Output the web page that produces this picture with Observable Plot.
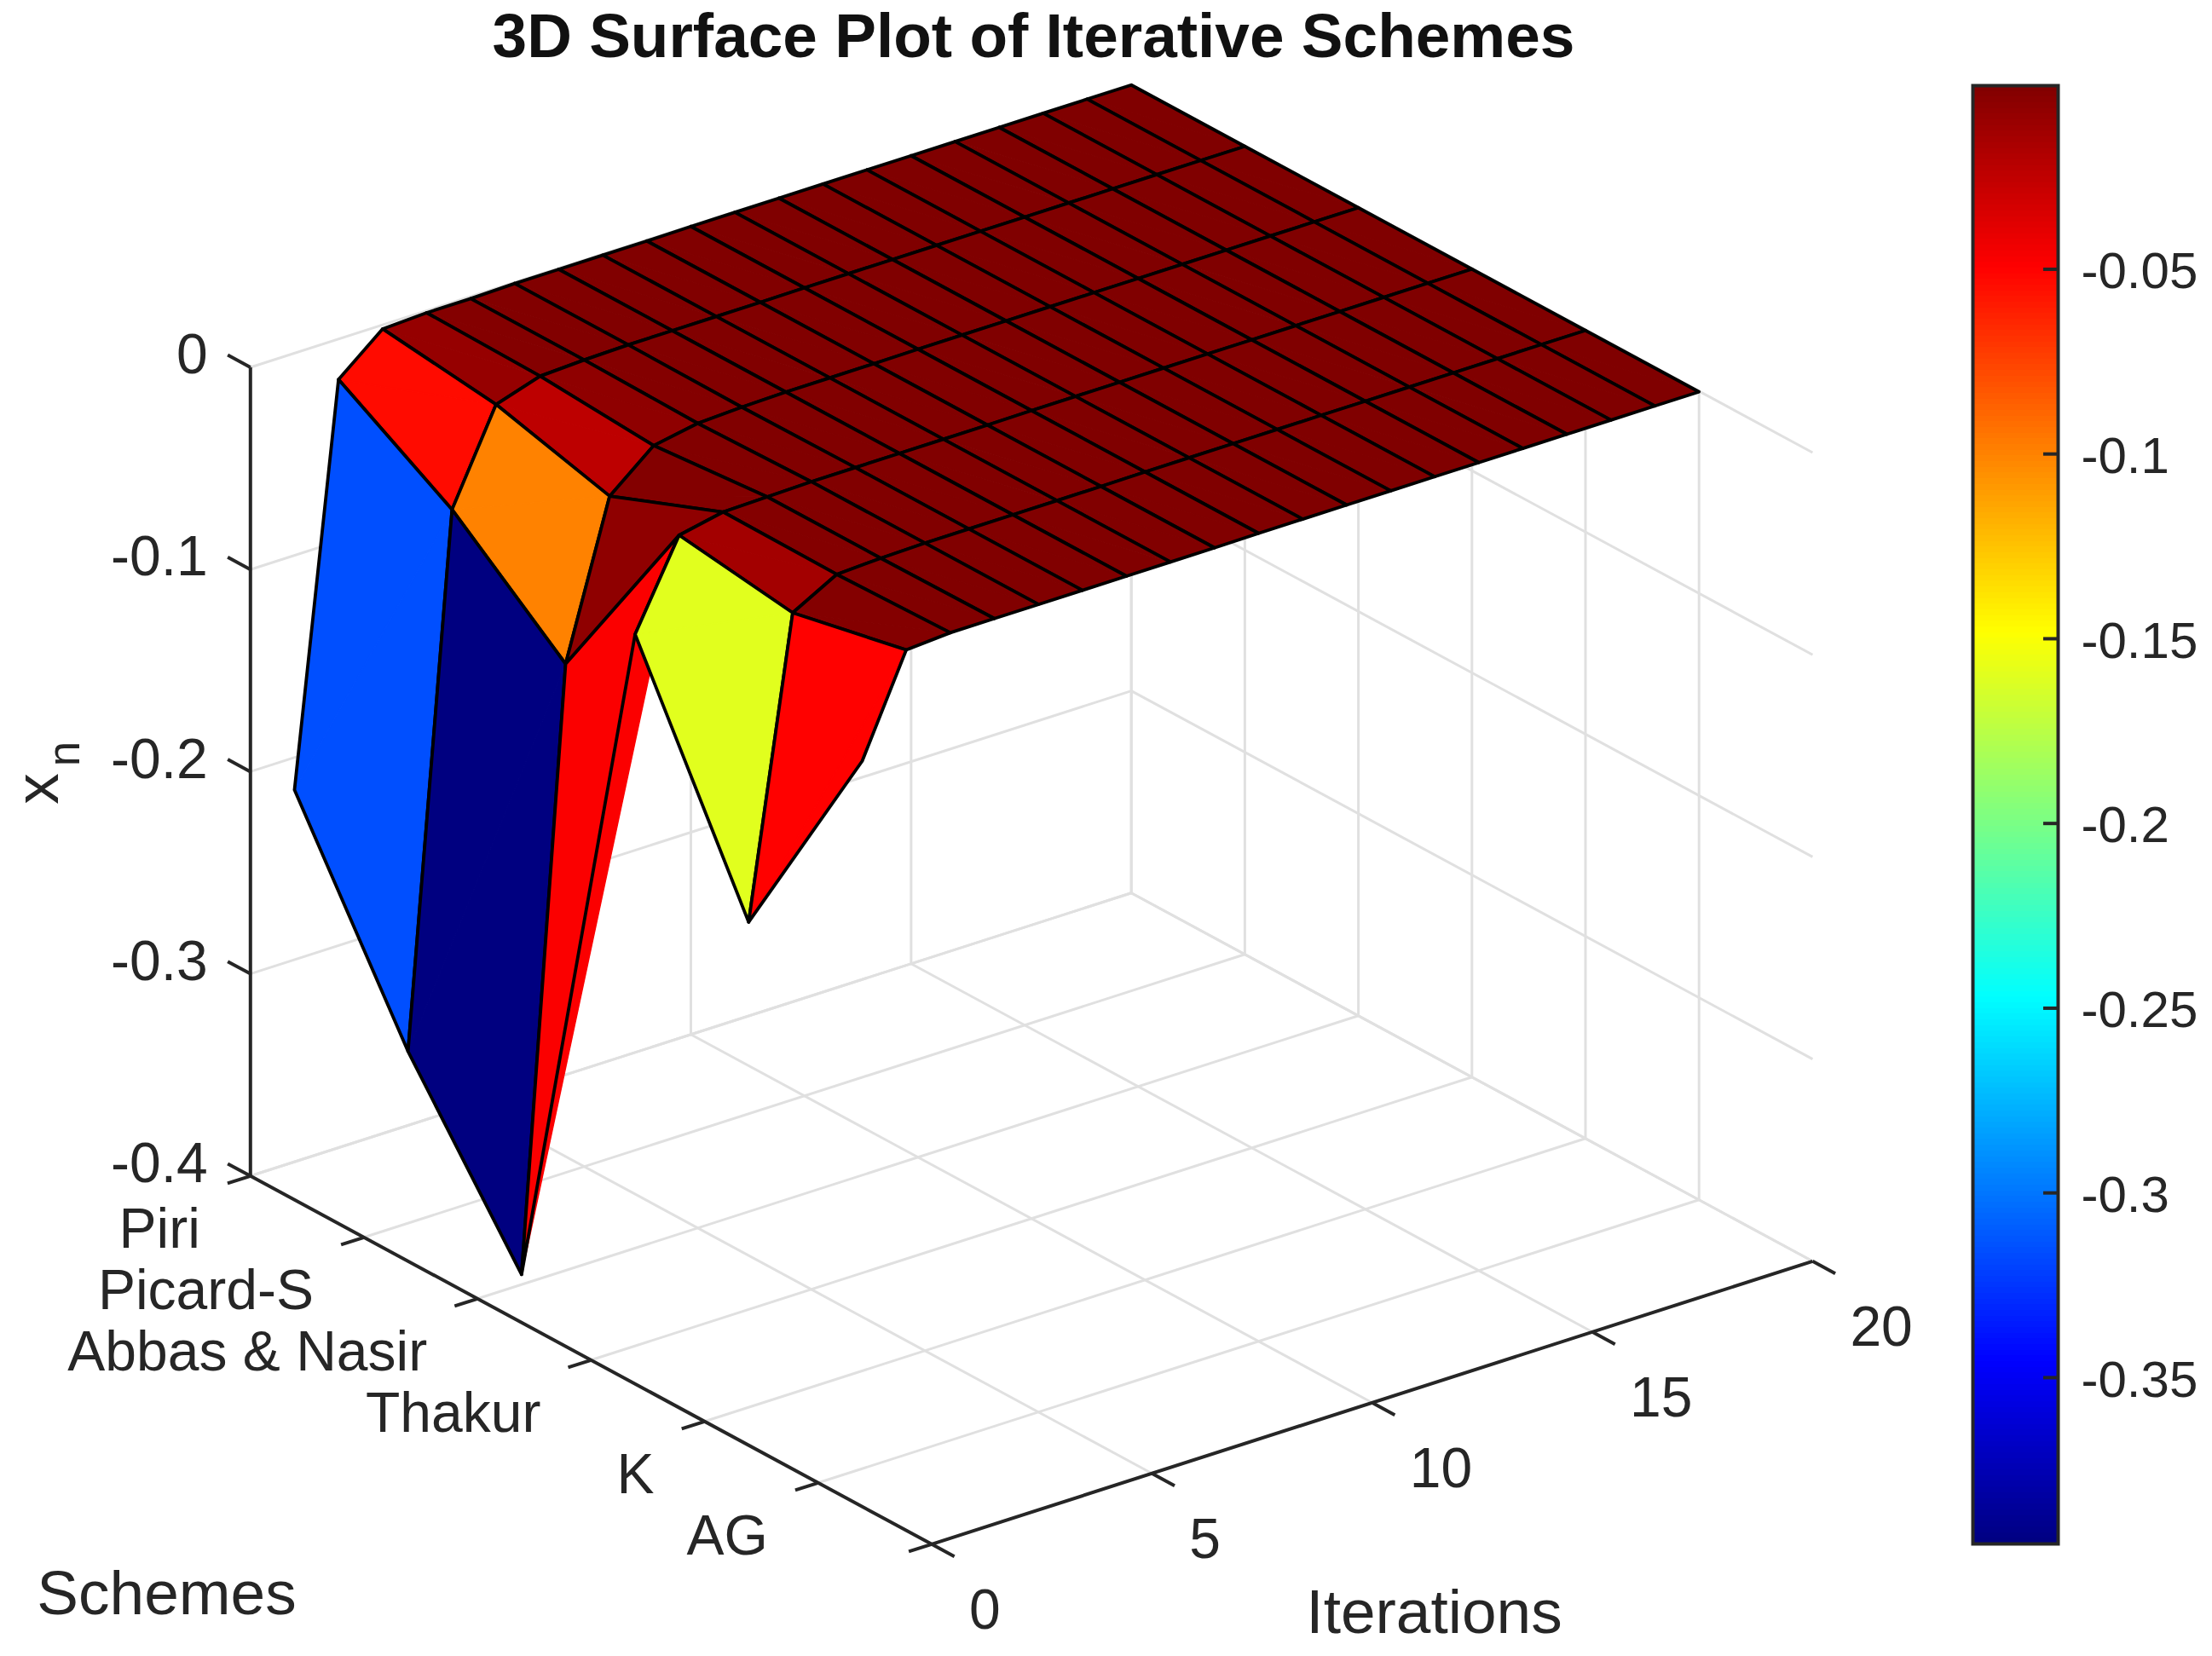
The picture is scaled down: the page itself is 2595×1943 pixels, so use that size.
<!DOCTYPE html>
<html>
<head>
<meta charset="utf-8">
<script src="https://cdn.jsdelivr.net/npm/d3@7"></script>
<script src="https://cdn.jsdelivr.net/npm/@observablehq/plot@0.6"></script>
<style>
html,body{margin:0;padding:0;background:#fff;overflow:hidden}
#root{position:relative;width:2595px;height:1943px}
#root svg{position:absolute;left:0;top:0;max-width:none}
#root #bar svg{left:2300px}
</style>
</head>
<body>
<div id="root"><div id="main"></div><div id="bar"></div></div>
<script>
// ---- data ----
const schemes = ["Piri", "Picard-S", "Abbas & Nasir", "Thakur", "K", "AG"];
const iterations = [1,2,3,4,5,6,7,8,9,10,11,12,13,14,15,16,17,18,19,20];
const piri    = [-0.216,-0.020,-0.002,-0.001,-0.001,-0.0005,-0.0005,-0.0005,-0.0005,-0.0003,-0.0003,-0.0003,-0.0003,-0.0003,-0.0003,-0.0003,-0.0003,-0.0003,-0.0003,-0.0003];
const picardS = [-0.315,-0.054,-0.009,-0.002,-0.001,-0.0005,-0.0005,-0.0005,-0.0005,-0.0003,-0.0003,-0.0003,-0.0003,-0.0003,-0.0003,-0.0003,-0.0003,-0.0003,-0.0003,-0.0003];
const abbas   = [-0.395,-0.100,-0.024,-0.006,-0.002,-0.001,-0.0005,-0.0005,-0.0005,-0.0003,-0.0003,-0.0003,-0.0003,-0.0003,-0.0003,-0.0003,-0.0003,-0.0003,-0.0003,-0.0003];
const thakur  = [-0.048,-0.006,-0.0015,-0.001,-0.0005,-0.0005,-0.0005,-0.0005,-0.0005,-0.0003,-0.0003,-0.0003,-0.0003,-0.0003,-0.0003,-0.0003,-0.0003,-0.0003,-0.0003,-0.0003];
const kIter   = [-0.160,-0.014,-0.002,-0.001,-0.0005,-0.0005,-0.0005,-0.0005,-0.0005,-0.0003,-0.0003,-0.0003,-0.0003,-0.0003,-0.0003,-0.0003,-0.0003,-0.0003,-0.0003,-0.0003];
const ag      = [-0.050,-0.002,-0.0005,-0.0005,-0.0005,-0.0005,-0.0005,-0.0005,-0.0005,-0.0003,-0.0003,-0.0003,-0.0003,-0.0003,-0.0003,-0.0003,-0.0003,-0.0003,-0.0003,-0.0003];
const surface = [piri, picardS, abbas, thakur, kIter, ag];

const iterTicks = [0, 5, 10, 15, 20];
const schemeTicks = [1, 2, 3, 4, 5, 6, 7];
const zTicks = [0, -0.1, -0.2, -0.3, -0.4];
const barTicks = [-0.05, -0.1, -0.15, -0.2, -0.25, -0.3, -0.35];
const colorLimits = [-0.395, -0.0003];
const jetColors = ["#000080", "#0000ff", "#00ffff", "#ffff00", "#ff0000", "#800000"];
const jetStops = [0, 1/8, 3/8, 5/8, 7/8, 1];

// ---- MATLAB-style orthographic view (pixels per data unit) ----
const view = {ox: 293.3, oy: 1379.3, tx: 51.67, ty: -16.6, sx: 133.2, sy: 72, zy: 2372, zBase: -0.4};
const project = (t, s, z) => ({
  x: view.ox + view.tx * t + view.sx * (s - 1),
  y: view.oy + view.ty * t + view.sy * (s - 1) - (z - view.zBase) * view.zy
});
const link = (a, b) => {
  const p = project(...a), q = project(...b);
  return {x1: p.x, y1: p.y, x2: q.x, y2: q.y};
};

// ---- grid and axes ----
const gridLines = [];
for (const t of iterTicks) {
  gridLines.push(link([t,1,-0.4],[t,7,-0.4]));
  if (t > 0) gridLines.push(link([t,1,-0.4],[t,1,0]));
}
for (const s of schemeTicks) {
  gridLines.push(link([0,s,-0.4],[20,s,-0.4]));
  if (s < 7) gridLines.push(link([20,s,-0.4],[20,s,0]));
}
for (const z of zTicks) {
  gridLines.push(link([0,1,z],[20,1,z]));
  gridLines.push(link([20,1,z],[20,7,z]));
}
const axisLines = [
  link([0,1,-0.4],[0,1,0]),
  link([0,1,-0.4],[0,7,-0.4]),
  link([0,7,-0.4],[20,7,-0.4]),
  ...zTicks.map(z => link([0,1,z],[0,0.8,z])),
  ...schemeTicks.map(s => link([0,s,-0.4],[-0.52,s,-0.4])),
  ...iterTicks.map(t => link([t,7,-0.4],[t,7.2,-0.4]))
];

// ---- surface cells, painted back to front ----
const cells = [];
for (let ti = iterations.length - 2; ti >= 0; --ti) {
  for (let si = 0; si < schemes.length - 1; ++si) {
    const corner = (i, j) => ({...project(iterations[j], i + 1, surface[i][j])});
    const A = corner(si, ti), B = corner(si, ti + 1), C = corner(si + 1, ti + 1), D = corner(si + 1, ti);
    const v = surface[si + 1][ti];
    cells.push({
      tris: [[A,B,C,"a"],[A,C,D,"b"]].flatMap(([p,q,r,k]) => [p,q,r].map(o => ({...o, k, v}))),
      edge: [A,B,C,D,A]
    });
  }
}
const surfaceMarks = cells.flatMap(c => [
  Plot.line(c.tris, {x:"x", y:"y", z:"k", fill:"v", stroke:"v", strokeWidth:1.5}),
  Plot.line(c.edge, {x:"x", y:"y", stroke:"#000", strokeWidth:3.8, fill:"none", strokeLinejoin:"round"})
]);

// ---- shared styling ----
const font = "Liberation Sans";
const ink = "#262626";
const colorScale = {
  type: "linear",
  domain: jetStops.map(p => colorLimits[0] + p * (colorLimits[1] - colorLimits[0])),
  range: jetColors,
  interpolate: "rgb",
  clamp: true
};
const label = (text, x, y, size, extra = {}) =>
  Plot.text([text], {x: () => x, y: () => y, text: d => d, fontSize: size, fontFamily: font, fill: ink, ...extra});

// ---- main plot ----
const main = Plot.plot({
  width: 2595, height: 1943,
  margin: 0,
  style: {background: "#fff"},
  x: {domain: [0, 2595], range: [0, 2595], axis: null},
  y: {domain: [0, 1943], range: [0, 1943], axis: null},
  color: colorScale,
  marks: [
    Plot.link(gridLines, {x1:"x1", y1:"y1", x2:"x2", y2:"y2", stroke:"#e0e0e0", strokeWidth:3}),
    Plot.link(axisLines, {x1:"x1", y1:"y1", x2:"x2", y2:"y2", stroke:ink, strokeWidth:4}),
    ...surfaceMarks,
    Plot.text(zTicks, {x: z => project(0,1,z).x, y: z => project(0,1,z).y, text: z => String(z),
      textAnchor:"end", dx:-50, dy:-14, fontSize:66, fontFamily:font, fill:ink}),
    Plot.text(schemes, {x: (d,i) => project(0,i+1,-0.4).x, y: (d,i) => project(0,i+1,-0.4).y, text: d => d,
      textAnchor:"end", dx:-59, dy:63, fontSize:66, fontFamily:font, fill:ink}),
    Plot.text(iterTicks, {x: t => project(t,7,-0.4).x, y: t => project(t,7,-0.4).y, text: t => String(t),
      textAnchor:"start", dx:44, dy:78, fontSize:66, fontFamily:font, fill:ink}),
    label("3D Surface Plot of Iterative Schemes", 1212, 43, 73, {fontWeight:"bold", fill:"#111"}),
    label("Schemes", 195, 1870, 73),
    label("Iterations", 1682, 1892, 73),
    label("x", 44, 925, 73, {rotate:-90}),
    label("n", 76, 884, 53, {rotate:-90})
  ]
});

// ---- colour bar ----
const barEdges = d3.range(257).map(i => colorLimits[0] + (i / 256) * (colorLimits[1] - colorLimits[0]));
const bands = barEdges.slice(0, -1).map((lo, i) => ({lo, hi: barEdges[i + 1]}));
const bar = Plot.plot({
  width: 295, height: 1943,
  marginLeft: 14, marginRight: 181, marginTop: 100, marginBottom: 132,
  style: {background: "transparent", overflow: "visible"},
  x: {domain: [0, 1], axis: null},
  y: {domain: colorLimits, range: [1811, 100], axis: null},
  color: colorScale,
  marks: [
    Plot.rect(bands, {x1: () => 0, x2: () => 1, y1:"lo", y2:"hi", fill: d => (d.lo + d.hi) / 2, shapeRendering:"crispEdges"}),
    Plot.frame({stroke: ink, strokeWidth: 4}),
    Plot.ruleY(barTicks, {x1: () => 0.83, x2: () => 1, y: d => d, stroke: ink, strokeWidth: 4}),
    Plot.axisY({anchor:"right", ticks: barTicks, tickFormat: d => String(d), tickSize: 0, tickPadding: 27, dy: 3,
      fontSize: 60, fontFamily: font, color: ink, label: null})
  ]
});

document.getElementById("main").appendChild(main);
document.getElementById("bar").appendChild(bar);
</script>
</body>
</html>
